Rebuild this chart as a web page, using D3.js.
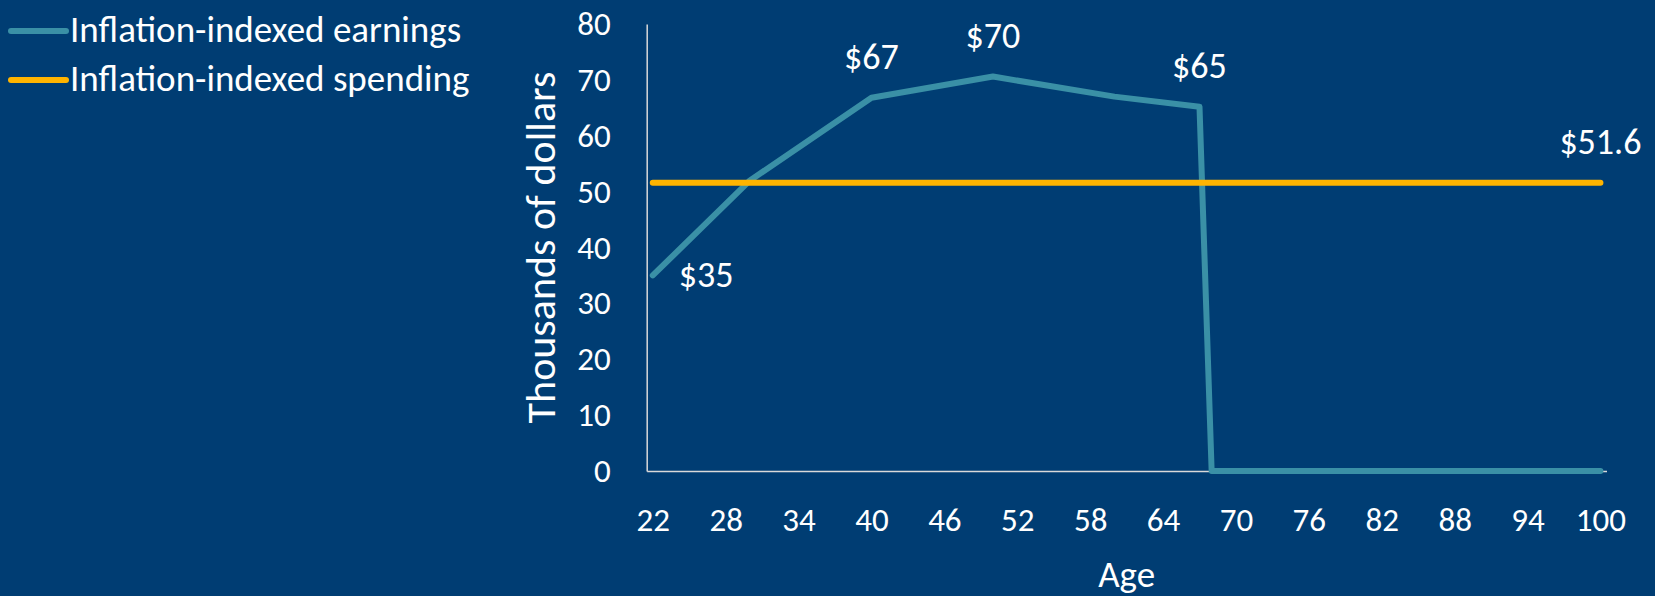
<!DOCTYPE html>
<html>
<head>
<meta charset="utf-8">
<script src="https://cdn.jsdelivr.net/npm/d3@7"></script>
<style>
  body { margin: 0; background: #003D73; }
  svg { display: block; font-family: Carlito, Calibri, Lato, sans-serif; }
</style>
</head>
<body>
<svg></svg>
<script>
// data
var ages = [22, 30, 40, 50, 60, 67, 68, 100];
var earnings = [35, 52, 66.8, 70.6, 67, 65.2, 0, 0];
var spendAges = [22, 100];
var spending = [51.6, 51.6];

var labelAges = [22, 40, 50, 67, 100];
var labelValues = [35, 66.8, 70.6, 65.2, 51.6];
var labelTexts = ["$35", "$67", "$70", "$65", "$51.6"];

var xTicks = [22, 28, 34, 40, 46, 52, 58, 64, 70, 76, 82, 88, 94, 100];
var yTicks = [0, 10, 20, 30, 40, 50, 60, 70, 80];
var seriesNames = ["Inflation-indexed earnings", "Inflation-indexed spending"];
var seriesColors = ["#3A90A6", "#FFB400"];

var svgWidth = 1655, svgHeight = 596;

var svg = d3.select("svg")
    .attr("width", svgWidth)
    .attr("height", svgHeight);

svg.append("rect")
    .attr("width", svgWidth)
    .attr("height", svgHeight)
    .attr("fill", "#003D73");

// one category per year, points in the middle of each slot
var x = d3.scaleLinear()
    .domain([21.5, 100.5])
    .range([646.7, 1606.5]);

var y = d3.scaleLinear()
    .domain([0, 80])
    .range([471, 24]);

// axes
var xAxis = svg.append("g")
    .attr("transform", "translate(0," + y(0) + ")")
    .call(d3.axisBottom(x).tickValues(xTicks).tickSize(0).tickPadding(37));

var yAxis = svg.append("g")
    .attr("transform", "translate(" + x(21.5) + ",0)")
    .call(d3.axisLeft(y).tickValues(yTicks).tickSize(0).tickPadding(36));

[xAxis, yAxis].forEach(function(g) {
    g.select(".domain").attr("stroke", "#D9D9D9").attr("stroke-width", 1.5);
    g.selectAll("text")
        .attr("fill", "#FFFFFF")
        .style("font-size", "33px")
        .style("font-family", "Carlito, Calibri, Lato, sans-serif");
});

// axis titles
svg.append("text")
    .attr("x", (x.range()[0] + x.range()[1]) / 2)
    .attr("y", 587)
    .attr("text-anchor", "middle")
    .attr("fill", "#FFFFFF")
    .style("font-size", "37px")
    .text("Age");

svg.append("text")
    .attr("transform", "translate(555," + (y(0) + y(80)) / 2 + ") rotate(-90)")
    .attr("text-anchor", "middle")
    .attr("fill", "#FFFFFF")
    .style("font-size", "42px")
    .text("Thousands of dollars");

// lines
var line = d3.line()
    .x(function(d) { return x(d[0]); })
    .y(function(d) { return y(d[1]); });

svg.append("path")
    .datum(d3.zip(ages, earnings))
    .attr("d", line)
    .attr("fill", "none")
    .attr("stroke", seriesColors[0])
    .attr("stroke-width", 6)
    .attr("stroke-linejoin", "round")
    .attr("stroke-linecap", "round");

svg.append("path")
    .datum(d3.zip(spendAges, spending))
    .attr("d", line)
    .attr("fill", "none")
    .attr("stroke", seriesColors[1])
    .attr("stroke-width", 6)
    .attr("stroke-linecap", "round");

// data labels, first one sits right of its point, others above
svg.selectAll(".dlabel")
    .data(d3.zip(labelAges, labelValues, labelTexts))
    .enter()
    .append("text")
    .attr("class", "dlabel")
    .attr("x", function(d, i) { return i === 0 ? x(d[0]) + 26 : x(d[0]); })
    .attr("y", function(d, i) { return i === 0 ? y(d[1]) + 12 : y(d[1]) - 29; })
    .attr("text-anchor", function(d, i) { return i === 0 ? "start" : "middle"; })
    .attr("fill", "#FFFFFF")
    .style("font-size", "36px")
    .text(function(d) { return d[2]; });

// legend
var legend = svg.selectAll(".legend")
    .data(seriesNames)
    .enter()
    .append("g")
    .attr("class", "legend")
    .attr("transform", function(d, i) { return "translate(0," + (31 + i * 49) + ")"; });

legend.append("line")
    .attr("x1", 11)
    .attr("x2", 66)
    .attr("stroke", function(d, i) { return seriesColors[i]; })
    .attr("stroke-width", 6)
    .attr("stroke-linecap", "round");

legend.append("text")
    .attr("x", 70)
    .attr("y", 11)
    .attr("fill", "#FFFFFF")
    .style("font-size", "37px")
    .text(function(d) { return d; });
</script>
</body>
</html>
